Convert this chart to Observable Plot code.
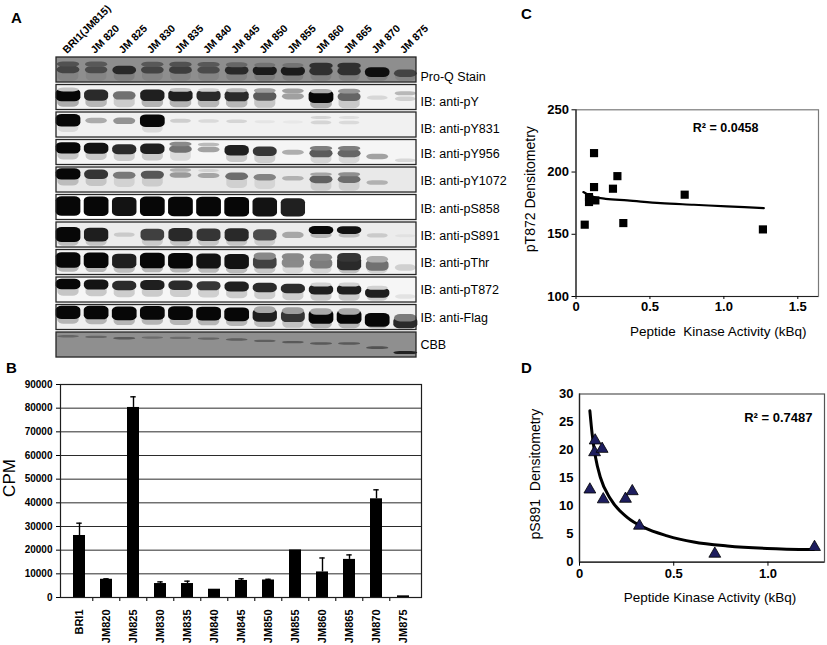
<!DOCTYPE html>
<html><head><meta charset="utf-8">
<script src="https://cdn.jsdelivr.net/npm/d3@7"></script>
<script src="https://cdn.jsdelivr.net/npm/@observablehq/plot@0.6"></script>
<style>
html,body{margin:0;padding:0;background:#fff;}
#fig{position:relative;width:827px;height:645px;overflow:hidden;font-family:"Liberation Sans",Arial,sans-serif;}
#fig svg{position:absolute;}
.letter{position:absolute;font-weight:bold;font-size:15px;line-height:1;font-family:"Liberation Sans",Arial,sans-serif;}
</style></head><body><div id="fig"></div>
<script>
// ================= DATA =================
// Panel A – lanes and blots
const lanes = ["BRI1(JM815)","JM 820","JM 825","JM 830","JM 835","JM 840","JM 845","JM 850","JM 855","JM 860","JM 865","JM 870","JM 875"];
const blotLabels = ["Pro-Q Stain","IB: anti-pY","IB: anti-pY831","IB: anti-pY956","IB: anti-pY1072","IB: anti-pS858","IB: anti-pS891","IB: anti-pThr","IB: anti-pT872","IB: anti-Flag","CBB"];
// relative migration of each lane's band (0 = BRI1)
const mobility = [0,0.02,0.06,0.04,0.05,0.07,0.1,0.14,0.18,0.22,0.22,0.35,0.5];
// main-band darkness (0 = none, 1 = saturated) per lane
const proQ   = [0.55,0.5,0.75,0.55,0.6,0.5,0.75,0.85,0.85,0.7,0.7,0.95,0.55];
const pY     = [1,0.85,0.55,0.9,0.9,0.85,0.85,0.65,0.35,1,0.6,0.12,0.15];
const pY831  = [1,0.3,0.4,1,0.15,0.1,0.12,0.05,0.04,0.12,0.1,0,0];
const pY956  = [1,0.95,0.85,0.9,0.55,0.35,0.9,0.8,0.3,0.65,0.6,0.35,0.12];
const pY1072 = [1,0.8,0.5,0.65,0.35,0.3,0.55,0.45,0.25,0.6,0.55,0.25,0];
const pS858  = [1,1,0.95,1,1,1,1,0.95,0.9,0,0,0,0];
const pS891  = [1,0.9,0.15,0.75,0.85,0.8,0.85,0.7,0.3,0.25,0.2,0.15,0.05];
const pThr   = [1,1,0.9,1,1,0.95,0.95,0.75,0.45,0.5,0.85,0.55,0.15];
const pT872  = [1,0.95,0.85,0.9,0.85,0.8,0.9,0.85,0.85,0.9,0.9,0.9,0.08];
const flag   = [1,1,1,1,1,1,1,0.9,0.8,1,1,1,0.85];
const cbb    = [0.3,0.3,0.4,0.25,0.25,0.3,0.35,0.35,0.4,0.4,0.4,0.45,0.8];
// upper (doublet) band darkness per lane
const proQUp   = [0.45,0.4,0,0.4,0.45,0.4,0.3,0.2,0.2,0.7,0.7,0,0];
const pYUp     = [0.2,0,0,0,0.2,0.15,0.25,0.35,0.35,0.3,0.4,0,0.25];
const pY831Up  = [0,0,0,0,0,0,0,0,0,0.12,0.08,0,0];
const pY956Up  = [0,0,0,0,0.45,0.25,0,0,0,0.5,0.5,0,0];
const pY1072Up = [0,0,0,0,0.25,0.1,0,0,0,0.3,0.4,0,0];
const pS858Up  = [0,0,0,0,0,0,0,0,0,0,0,0,0];
const pS891Up  = [0,0,0,0,0,0,0,0,0,1,0.95,0,0];
const pThrUp   = [0,0,0,0,0,0,0,0.45,0.45,0.45,0.8,0.3,0];
const pT872Up  = [0,0,0,0,0,0,0,0,0,0.15,0.15,0.15,0];
const flagUp   = [0,0,0,0,0,0,0,0.3,0.35,0.3,0.3,0,0.5];
const cbbUp    = [0,0,0,0,0,0,0,0,0,0,0,0,0];

// Panel B – peptide kinase activity
const cpmCats = ["BRI1","JM820","JM825","JM830","JM835","JM840","JM845","JM850","JM855","JM860","JM865","JM870","JM875"];
const cpmMean = [26200,7700,80300,5900,5900,3500,7200,7400,20100,10800,16100,41700,700];
const cpmErr  = [5200,200,4500,700,1000,0,700,300,0,5900,1900,3800,0];
const cpmTicks = [0,10000,20000,30000,40000,50000,60000,70000,80000,90000];

// Panel C – pT872 vs kinase activity
const kinaseC = [0.059,0.088,0.088,0.122,0.122,0.131,0.25,0.28,0.32,0.735,1.264];
const pT872Dens = [157.7,179.9,175.9,215.2,187.9,177.2,186.6,196.7,159,181.8,153.9];
const trendCx = [0.05,0.08,0.122,0.2,0.347,0.572,0.797,1.02,1.27];
const trendCy = [183.9,182,179.9,178.5,177.2,175,173.7,172.4,171];
const cTicksX = [0,0.5,1,1.5];
const cTicksY = [100,150,200,250];
const r2C = "R² = 0.0458";

// Panel D – pS891 vs kinase activity
const kinaseD = [0.055,0.080,0.083,0.120,0.126,0.244,0.280,0.318,0.718,1.247];
const pS891Dens = [12.95,19.6,21.7,20.2,11.2,11.3,12.65,6.5,1.5,2.7];
const trendDx = [0.055,0.067,0.085,0.111,0.164,0.253,0.341,0.465,0.606,0.784,0.996,1.243];
const trendDy = [27.0,22.9,18.7,15.1,11.3,8.0,6.2,4.7,3.6,2.9,2.45,2.25];
const dTicksX = [0,0.5,1];
const dTicksY = [0,5,10,15,20,25,30];
const r2D = "R² = 0.7487";

// ================= BUILD =================
const FONT = "'Liberation Sans', Arial, sans-serif";
const fig = document.getElementById("fig");
function place(svg, left, top) { svg.style.left = left + "px"; svg.style.top = top + "px"; fig.appendChild(svg); }
function letter(t, left, top) { const d = document.createElement("div"); d.className = "letter"; d.textContent = t; d.style.left = left + "px"; d.style.top = top + "px"; fig.appendChild(d); }

// ---- Panel A ----
const blotRows = [proQ,pY,pY831,pY956,pY1072,pS858,pS891,pThr,pT872,flag,cbb];
const blotUpper = [proQUp,pYUp,pY831Up,pY956Up,pY1072Up,pS858Up,pS891Up,pThrUp,pT872Up,flagUp,cbbUp];
const stripLook = [
  {bg:"#8e8e8e", c:0.5,  h0:0.16, h1:0.40, mob:0.3, smear:0.15, up:-0.22},
  {bg:"#f3f3f3", c:0.42, h0:0.12, h1:0.50, mob:0.3, smear:0.3,  up:-0.22},
  {bg:"#f1f1f1", c:0.33, h0:0.10, h1:0.50, mob:0.4, smear:0.1,  up:-0.2},
  {bg:"#f5f5f5", c:0.33, h0:0.10, h1:0.45, mob:1.0, smear:0.2,  up:-0.2},
  {bg:"#e9e9e9", c:0.27, h0:0.10, h1:0.45, mob:1.0, smear:0.2,  up:-0.2},
  {bg:"#ffffff", c:0.46, h0:0.30, h1:0.78, mob:0.3, smear:0,    up:-0.2},
  {bg:"#ececec", c:0.5,  h0:0.10, h1:0.60, mob:0.1, smear:0.2,  up:-0.2},
  {bg:"#f3f3f3", c:0.42, h0:0.20, h1:0.62, mob:0.6, smear:0.25, up:-0.24},
  {bg:"#f6f6f6", c:0.28, h0:0.15, h1:0.42, mob:1.0, smear:0.2,  up:-0.2},
  {bg:"#efefef", c:0.30, h0:0.22, h1:0.55, mob:0.9, smear:0.25, up:-0.22},
  {bg:"#8f8f8f", c:0.17, h0:0.07, h1:0.14, mob:1.3, smear:0,    up:-0.2}
];
const SH = 0.91; // strip height in strip units
const labelNudge = [0.25,0.18,0.16,0.05,0.05,0.05,0.05,0,0,0,0];
const bands = [];
blotRows.forEach((row, s) => {
  const L = stripLook[s];
  row.forEach((d, lane) => {
    const pos = L.c + L.mob * mobility[lane];
    const add = (p, dark, h) => {
      if (dark <= 0) return;
      const t = Math.max(0.05, p - h / 2), b = Math.min(0.95, p + h / 2);
      if (b <= t) return;
      bands.push({lane, y1: s + t * SH, y2: s + b * SH,
        fill: d3.interpolateRgb(L.bg, "#070707")(Math.min(1, dark)), hw: 0.36 + 0.08 * Math.min(1, dark)});
    };
    if (L.smear && d > 0.4) add(pos + 0.22, d * L.smear, 0.5);
    add(pos, d, L.h0 + (L.h1 - L.h0) * d);
    const u = blotUpper[s][lane];
    add(pos + L.up, u, L.h0 + (L.h1 - L.h0) * 0.45 * u);
  });
});
const strips = blotLabels.map((t, i) => i);

const svgA = Plot.plot({
  width: 520, height: 365, marginLeft: 56, marginRight: 104, marginTop: 57, marginBottom: 5.5,
  style: {fontFamily: FONT, background: "none", overflow: "visible"},
  x: {domain: [-0.427, 12.38], axis: null},
  y: {domain: [0, 11], range: [57, 359.5], axis: null},
  color: {type: "identity"},
  marks: [
    Plot.rect(strips, {y1: s => s, y2: s => s + SH, fill: s => stripLook[s].bg}),
    Plot.rect(bands, {x1: d => d.lane - d.hw, x2: d => d.lane + d.hw, y1: "y1", y2: "y2", fill: "fill", rx: 6, ry: 4, ariaLabel: "bands"}),
    Plot.rect(strips, {y1: s => s, y2: s => s + SH, fill: "none", stroke: "#262626", strokeWidth: 1.3}),
    Plot.text(lanes, {x: (d, i) => i, y: 0, dx: -4, dy: -6, rotate: -45, textAnchor: "start", lineAnchor: "middle", fontSize: 10.5, fontWeight: "bold", fill: "#000"}),
    Plot.text(blotLabels, {y: (d, i) => i + SH / 2 + labelNudge[i], frameAnchor: "right", dx: 4, textAnchor: "start", fontSize: 12.5, fill: "#000"})
  ]
});
// soften the bands
{
  const ns = "http://www.w3.org/2000/svg";
  const defs = document.createElementNS(ns, "defs");
  const f = document.createElementNS(ns, "filter");
  f.setAttribute("id", "soft"); f.setAttribute("x", "-20%"); f.setAttribute("y", "-50%"); f.setAttribute("width", "140%"); f.setAttribute("height", "200%");
  const b = document.createElementNS(ns, "feGaussianBlur"); b.setAttribute("stdDeviation", "0.9");
  f.appendChild(b); defs.appendChild(f); svgA.insertBefore(defs, svgA.firstChild);
  const g = svgA.querySelector('g[aria-label="bands"]'); if (g) g.setAttribute("filter", "url(#soft)");
}
place(svgA, 0, 0);

// ---- Panel B ----
const cpm = cpmCats.map((c, i) => ({cat: c, mean: cpmMean[i], err: cpmErr[i]}));
const withErr = cpm.filter(d => d.err > 0);
const bW = 361, pIn = 0.57, pOut = 0.35;
const bStep = bW / (cpmCats.length - pIn + 2 * pOut);
const svgB = Plot.plot({
  width: 430, height: 275, marginLeft: 60, marginRight: 9, marginTop: 14, marginBottom: 48,
  style: {fontFamily: FONT, background: "none", overflow: "visible"},
  x: {type: "band", domain: cpmCats, paddingInner: pIn, paddingOuter: pOut},
  y: {domain: [0, 90000]},
  marks: [
    Plot.ruleY(cpmTicks, {stroke: "#2b2b2b", strokeWidth: 1}),
    Plot.barY(cpm, {x: "cat", y: "mean", fill: "#000"}),
    Plot.ruleX(withErr, {x: "cat", y1: "mean", y2: d => d.mean + d.err, stroke: "#000", strokeWidth: 1.4}),
    Plot.tickY(withErr, {x: "cat", y: d => d.mean + d.err, insetLeft: 3.3, insetRight: 3.3, stroke: "#000", strokeWidth: 1.4}),
    Plot.frame({stroke: "#1e1e1e", strokeWidth: 1.2}),
    Plot.ruleX(cpmCats.slice(1), {x: d => d, dx: -bStep / 2, insetTop: 213, insetBottom: -4, stroke: "#222", strokeWidth: 1.2}),
    Plot.axisY({ticks: cpmTicks, tickFormat: d3.format("d"), tickSize: 4, tickPadding: 4, fontSize: 10, fontWeight: "bold", label: null}),
    Plot.axisX({tickRotate: -90, tickSize: 0, tickPadding: 12, fontSize: 11, fontWeight: "bold", label: null}),
    Plot.text(["CPM"], {frameAnchor: "left", textAnchor: "middle", dx: -51, dy: -13, rotate: -90, fontSize: 17, fill: "#000"})
  ]
});
place(svgB, 0, 370);

// ---- Panel C ----
const cPts = kinaseC.map((x, i) => ({x, y: pT872Dens[i]}));
const cTrend = trendCx.map((x, i) => ({x, y: trendCy[i]}));
const fmt1 = d => d === 0 ? "0" : d.toFixed(1);
const svgC = Plot.plot({
  width: 307, height: 350, marginLeft: 55.5, marginRight: 9, marginTop: 109.3, marginBottom: 54,
  style: {fontFamily: FONT, background: "none", overflow: "visible"},
  x: {domain: [0, 1.64]},
  y: {domain: [100, 250]},
  marks: [
    Plot.frame({stroke: "#7a7a7a", strokeWidth: 1.2}),
    Plot.ruleX([0], {stroke: "#222", strokeWidth: 1.2}),
    Plot.ruleY([100], {stroke: "#222", strokeWidth: 1.2}),
    Plot.axisX({ticks: cTicksX, tickFormat: fmt1, tickSize: 3, tickPadding: 2, fontSize: 13, fontWeight: "bold", label: null}),
    Plot.axisY({ticks: cTicksY, tickSize: 4, tickPadding: 3, fontSize: 13, fontWeight: "bold", label: null}),
    Plot.line(cTrend, {x: "x", y: "y", curve: "monotone-x", stroke: "#000", strokeWidth: 2.2}),
    Plot.dot(cPts, {x: "x", y: "y", symbol: "square", r: 4.6, fill: "#000"}),
    Plot.text([r2C], {frameAnchor: "top-right", dx: -60, dy: 13, fontSize: 12.5, fontWeight: "bold", fill: "#000"}),
    Plot.text(["Peptide  Kinase Activity (kBq)"], {frameAnchor: "bottom", dx: 21, dy: 39, fontSize: 13.5, fill: "#000"}),
    Plot.text(["pT872 Densitometry"], {frameAnchor: "left", textAnchor: "middle", dx: -45.5, dy: -14, rotate: -90, fontSize: 14, fill: "#000"})
  ]
});
place(svgC, 520, 0);

// ---- Panel D ----
const dPts = kinaseD.map((x, i) => ({x, y: pS891Dens[i]}));
const dTrend = trendDx.map((x, i) => ({x, y: trendDy[i]}));
const svgD = Plot.plot({
  width: 307, height: 295, marginLeft: 59, marginRight: 3, marginTop: 43.5, marginBottom: 83.3,
  style: {fontFamily: FONT, background: "none", overflow: "visible"},
  x: {domain: [0, 1.3]},
  y: {domain: [0, 30]},
  marks: [
    Plot.frame({stroke: "#555", strokeWidth: 1.2}),
    Plot.ruleX([0], {stroke: "#222", strokeWidth: 1.3}),
    Plot.ruleY([0], {stroke: "#222", strokeWidth: 1.3}),
    Plot.axisX({ticks: dTicksX, tickFormat: fmt1, tickSize: 4, tickPadding: 3, fontSize: 13, fontWeight: "bold", label: null}),
    Plot.axisY({ticks: dTicksY, tickSize: 0, tickPadding: 6, fontSize: 13, fontWeight: "bold", label: null}),
    Plot.line(dTrend, {x: "x", y: "y", curve: "monotone-x", stroke: "#000", strokeWidth: 3}),
    Plot.dot(dPts, {x: "x", y: "y", symbol: "triangle", r: 4.4, fill: "#1d1d5e", stroke: "#000", strokeWidth: 0.8}),
    Plot.text([r2D], {frameAnchor: "top-right", dx: -12, dy: 19, fontSize: 13, fontWeight: "bold", fill: "#000"}),
    Plot.text(["Peptide Kinase Activity (kBq)"], {frameAnchor: "bottom", dx: 8, dy: 40, fontSize: 13.5, fill: "#000"}),
    Plot.text(["pS891  Densitometry"], {frameAnchor: "left", textAnchor: "middle", dx: -44, dy: -4, rotate: -90, fontSize: 14, fill: "#000"})
  ]
});
place(svgD, 520, 350);

letter("A", 11, 10);
letter("B", 6, 360);
letter("C", 521, 6);
letter("D", 521, 360);
</script>
</body></html>
